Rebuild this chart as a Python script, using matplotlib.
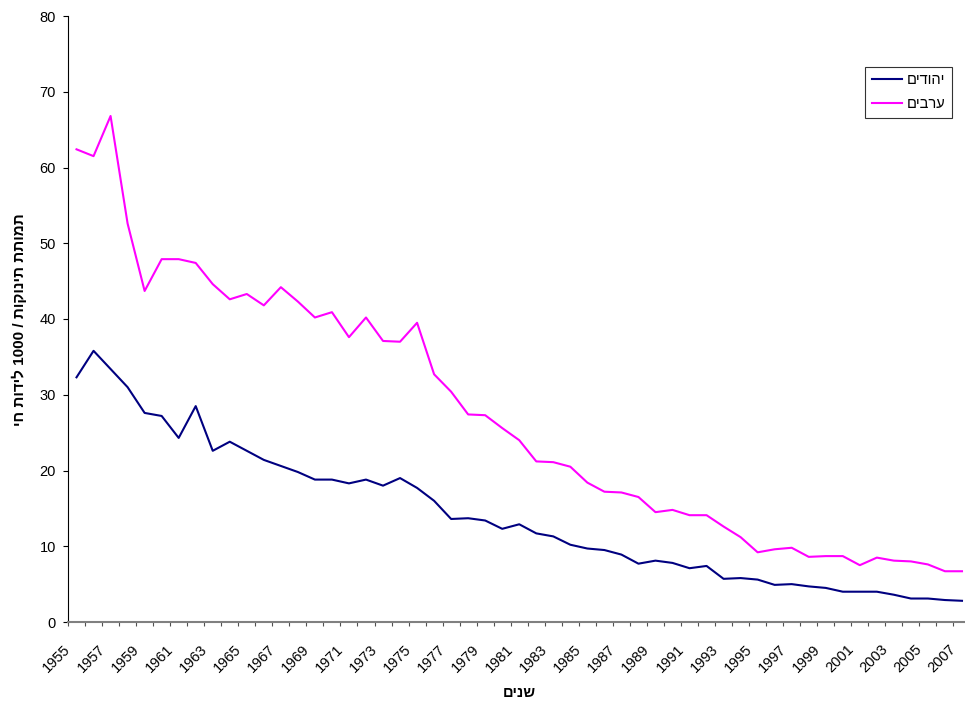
import matplotlib
matplotlib.use("Agg")
import matplotlib.pyplot as plt
import matplotlib.transforms as mtransforms
import numpy as np

years = list(range(1955, 2008))
jews = [32.3, 35.8, 33.4, 31.0, 27.6, 27.2, 24.3, 28.5, 22.6, 23.8,
        22.6, 21.4, 20.6, 19.8, 18.8, 18.8, 18.3, 18.8, 18.0, 19.0,
        17.7, 16.0, 13.6, 13.7, 13.4, 12.3, 12.9, 11.7, 11.3, 10.2,
        9.7, 9.5, 8.9, 7.7, 8.1, 7.8, 7.1, 7.4, 5.7, 5.8,
        5.6, 4.9, 5.0, 4.7, 4.5, 4.0, 4.0, 4.0, 3.6, 3.1,
        3.1, 2.9, 2.8]
arabs = [62.4, 61.5, 66.8, 52.6, 43.7, 47.9, 47.9, 47.4, 44.6, 42.6,
         43.3, 41.8, 44.2, 42.3, 40.2, 40.9, 37.6, 40.2, 37.1, 37.0,
         39.5, 32.7, 30.4, 27.4, 27.3, 25.6, 24.0, 21.2, 21.1, 20.5,
         18.4, 17.2, 17.1, 16.5, 14.5, 14.8, 14.1, 14.1, 12.6, 11.2,
         9.2, 9.6, 9.8, 8.6, 8.7, 8.7, 7.5, 8.5, 8.1, 8.0,
         7.6, 6.7, 6.7]
y_ticks = [0, 10, 20, 30, 40, 50, 60, 70, 80]

# Hebrew strings in visual (left-to-right) order
label_jews = "םידוהי"      # יהודים
label_arabs = "םיברע"      # ערבים
xlabel_txt = "םינש"        # שנים
ylabel_txt = "יח תודיל 1000 / תוקונית תתומת"  # תמותת תינוקות / 1000 לידות חי

plt.rcParams['font.family'] = ['Liberation Sans', 'DejaVu Sans']

W, H = 965, 703
fig = plt.figure(figsize=(W / 100, H / 100), dpi=100)
left_px, right_px, top_px, bottom_px = 68, 970.5, 16, 622
ax = fig.add_axes([left_px / W, (H - bottom_px) / H,
                   (right_px - left_px) / W, (bottom_px - top_px) / H])

x = np.arange(len(years))
ax.plot(x, jews, color='#000080', lw=1.5, label=label_jews)
ax.plot(x, arabs, color='#FF00FF', lw=1.5, label=label_arabs)

ax.set_xlim(-0.5, len(years) - 0.5)
ax.set_ylim(0, 80)
ax.set_yticks(y_ticks)
ax.tick_params(axis='y', direction='out', length=3.6, width=0.8, pad=5,
               labelsize=10.5, color='black')

# x axis: ticks at category boundaries, labels at category centres
ax.set_xticks(np.arange(-0.5, len(years)), labels=[])
ax.tick_params(axis='x', which='major', direction='out', length=3.2,
               width=0.8, color='#505050')
lab_off = mtransforms.ScaledTranslation(-8 / 100, -25 / 100, fig.dpi_scale_trans)
lab_tr = ax.get_xaxis_transform() + lab_off
for xi, yr in zip(x[::2], years[::2]):
    ax.text(xi, 0, str(yr), transform=lab_tr, rotation=45,
            rotation_mode='anchor', ha='right', va='center',
            fontsize=10.5, clip_on=False)

for s in ['top', 'right']:
    ax.spines[s].set_visible(False)
ax.spines['left'].set_color('black')
ax.spines['left'].set_linewidth(0.8)
ax.spines['bottom'].set_color('#808080')
ax.spines['bottom'].set_linewidth(1.5)

leg = ax.legend(loc='upper left', bbox_to_anchor=(0.8831, 0.9163),
                borderaxespad=0, frameon=True, fancybox=False,
                edgecolor='black', fontsize=10.5, handlelength=2.1,
                borderpad=0.45, labelspacing=0.7, handletextpad=0.3)
leg.get_frame().set_linewidth(0.8)

fig.text(519 / W, 1 - 693 / H, xlabel_txt, ha='center', va='center',
         fontsize=10.5, fontweight='bold')
fig.text(19 / W, 1 - 320 / H, ylabel_txt, ha='center', va='center',
         rotation=90, fontsize=11, fontweight='bold')

fig.savefig('out.png', dpi=100)
